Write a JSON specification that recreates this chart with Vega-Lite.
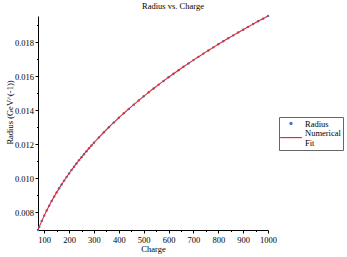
{
  "$schema": "https://vega.github.io/schema/vega-lite/v6.json",
  "autosize": {"type": "none"},
  "width": 230,
  "height": 214,
  "padding": {"left": 38, "top": 16, "right": 79, "bottom": 27},
  "background": "white",
  "config": {
    "view": {"stroke": null},
    "font": "Liberation Serif"
  },
  "title": {"text": "Radius vs. Charge", "anchor": "middle", "frame": "group", "dx": 20, "offset": 3.5, "font": "Liberation Serif", "fontSize": 8.5, "fontWeight": "normal", "color": "black"},
  "data": {"values": [
    {"Z": 75, "r": 0.006941}, {"Z": 80, "r": 0.007122}, {"Z": 90, "r": 0.007465}, {"Z": 100, "r": 0.007787},
    {"Z": 110, "r": 0.008090}, {"Z": 120, "r": 0.008376}, {"Z": 130, "r": 0.008649}, {"Z": 140, "r": 0.008909},
    {"Z": 150, "r": 0.009158}, {"Z": 160, "r": 0.009397}, {"Z": 170, "r": 0.009628}, {"Z": 180, "r": 0.009851},
    {"Z": 190, "r": 0.010066}, {"Z": 200, "r": 0.010275}, {"Z": 210, "r": 0.010478}, {"Z": 220, "r": 0.010675},
    {"Z": 230, "r": 0.010866}, {"Z": 240, "r": 0.011053}, {"Z": 250, "r": 0.011235}, {"Z": 260, "r": 0.011413},
    {"Z": 270, "r": 0.011586}, {"Z": 280, "r": 0.011756}, {"Z": 290, "r": 0.011922}, {"Z": 300, "r": 0.012085},
    {"Z": 320, "r": 0.012401}, {"Z": 340, "r": 0.012705}, {"Z": 360, "r": 0.012999}, {"Z": 380, "r": 0.013282},
    {"Z": 400, "r": 0.013559}, {"Z": 420, "r": 0.013820}, {"Z": 440, "r": 0.014080}, {"Z": 460, "r": 0.014333},
    {"Z": 480, "r": 0.014580}, {"Z": 500, "r": 0.014824}, {"Z": 520, "r": 0.015060}, {"Z": 540, "r": 0.015288},
    {"Z": 560, "r": 0.015512}, {"Z": 580, "r": 0.015731}, {"Z": 600, "r": 0.015946}, {"Z": 620, "r": 0.016156},
    {"Z": 640, "r": 0.016362}, {"Z": 660, "r": 0.016565}, {"Z": 680, "r": 0.016763}, {"Z": 700, "r": 0.016959},
    {"Z": 720, "r": 0.017150}, {"Z": 740, "r": 0.017342}, {"Z": 760, "r": 0.017528}, {"Z": 780, "r": 0.017711},
    {"Z": 800, "r": 0.017891}, {"Z": 820, "r": 0.018069}, {"Z": 840, "r": 0.018244}, {"Z": 860, "r": 0.018417},
    {"Z": 880, "r": 0.018586}, {"Z": 900, "r": 0.018754}, {"Z": 920, "r": 0.018920}, {"Z": 940, "r": 0.019083},
    {"Z": 960, "r": 0.019245}, {"Z": 980, "r": 0.019404}, {"Z": 1000, "r": 0.019561}
  ]},
  "encoding": {
    "x": {
      "field": "Z", "type": "quantitative",
      "scale": {"domain": [75, 1000], "nice": false, "zero": false},
      "axis": {
        "title": "Charge",
        "values": [100, 150, 200, 250, 300, 350, 400, 450, 500, 550, 600, 650, 700, 750, 800, 850, 900, 950, 1000],
        "labelExpr": "datum.value % 100 == 0 ? datum.label : ''",
        "format": "d",
        "grid": false,
        "domainColor": "black", "domainWidth": 1,
        "tickColor": "black",
        "tickSize": {"condition": {"test": "datum.value % 100 != 0", "value": 1.5}, "value": 3},
        "labelFont": "Liberation Serif", "labelFontSize": 8.5, "labelColor": "black", "labelPadding": 2.5,
        "labelFlush": false,
        "titleFont": "Liberation Serif", "titleFontSize": 8.5, "titleFontWeight": "normal", "titleColor": "black",
        "titleBaseline": "middle", "titleY": 18.7
      }
    },
    "y": {
      "field": "r", "type": "quantitative",
      "scale": {"domain": [0.00694, 0.01956], "nice": false, "zero": false},
      "axis": {
        "title": "Radius (GeV^(-1))",
        "values": [0.007, 0.008, 0.009, 0.010, 0.011, 0.012, 0.013, 0.014, 0.015, 0.016, 0.017, 0.018, 0.019],
        "labelExpr": "round(datum.value * 1000) % 2 == 0 ? datum.label : ''",
        "format": ".3f",
        "grid": false,
        "domainColor": "black", "domainWidth": 1,
        "tickColor": "black",
        "tickSize": {"condition": {"test": "round(datum.value * 1000) % 2 == 1", "value": 1.5}, "value": 3},
        "labelFont": "Liberation Serif", "labelFontSize": 8.5, "labelColor": "black", "labelPadding": 1.5,
        "labelFlush": false,
        "titleFont": "Liberation Serif", "titleFontSize": 8.5, "titleFontWeight": "normal", "titleColor": "black",
        "titleX": -29, "titleY": 96, "titleBaseline": "middle", "titleAngle": -90
      }
    }
  },
  "layer": [
    {
      "mark": {"type": "line", "strokeWidth": 1.1, "interpolate": "monotone", "opacity": 0},
      "encoding": {
        "color": {"datum": "Numerical Fit", "type": "nominal",
          "scale": {"domain": ["Radius", "Numerical Fit"], "range": ["#3a78c8", "#e82a2a"]},
          "legend": {
            "title": null, "orient": "none", "legendX": 241, "legendY": 101,
            "strokeColor": "#666666", "padding": 2, "fillColor": "white",
            "labelFont": "Liberation Serif", "labelFontSize": 8.5, "labelColor": "black",
            "labelExpr": "datum.label == 'Numerical Fit' ? ['Numerical', 'Fit'] : datum.label",
            "symbolType": "stroke", "symbolSize": 49, "symbolStrokeWidth": 1.2, "rowPadding": 0, "labelOffset": 15,
            "encode": {
              "symbols": {
                "update": {
                  "x": {"value": 10},
                  "size": {"value": 49},
                  "shape": {"signal": "datum.value == 'Radius' ? 'M-0.3,0a0.3,0.3 0 1,0 0.6,0a0.3,0.3 0 1,0 -0.6,0' : 'M-3.1,1.45H3.1'"},
                  "fill": {"signal": "datum.value == 'Radius' ? '#3a78c8' : 'transparent'"},
                  "stroke": {"signal": "datum.value == 'Radius' ? 'transparent' : '#f07070'"},
                  "strokeWidth": {"value": 1.2},
                  "opacity": {"value": 1}
                }
              }
            }
          }
        }
      }
    },
    {
      "mark": {"type": "point", "filled": true, "size": 6, "opacity": 1},
      "encoding": {
        "color": {"datum": "Radius", "type": "nominal"}
      }
    },
    {
      "mark": {"type": "line", "strokeWidth": 1.1, "interpolate": "monotone"},
      "encoding": {
        "color": {"datum": "Numerical Fit", "type": "nominal"}
      }
    }
  ]
}
